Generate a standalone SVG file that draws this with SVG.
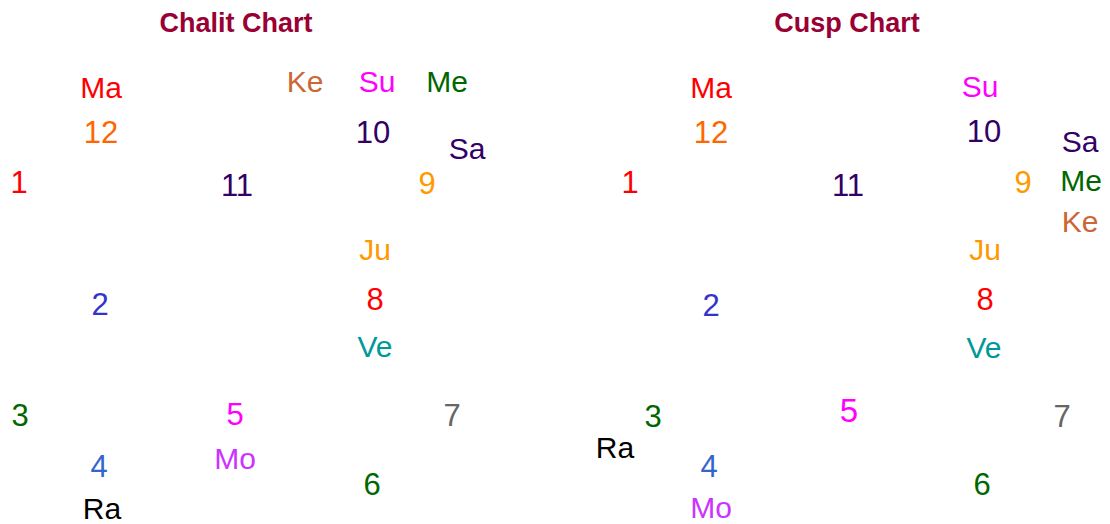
<svg xmlns="http://www.w3.org/2000/svg" width="1110" height="524" viewBox="0 0 1110 524">
<style>
text{font-family:"Liberation Sans",Arial,sans-serif;font-size:30px;text-anchor:middle}
.n{font-size:31px}
.t{font-size:27px;font-weight:bold;fill:#990033}
.red{fill:#ff0000}.org{fill:#ff6600}.pur{fill:#330066}.ke{fill:#cc6633}
.mag{fill:#ff00ff}.grn{fill:#006600}.yel{fill:#ff9900}.teal{fill:#009999}
.blu{fill:#3333cc}.gry{fill:#666666}.blu2{fill:#3366cc}.mo{fill:#cc33ff}.blk{fill:#000000}
</style>
<rect width="1110" height="524" fill="#ffffff"/>
<g id="chalit">
<text class="t" x="236" y="32">Chalit Chart</text>
<text class="red" x="101" y="98">Ma</text>
<text class="n org" x="101" y="143">12</text>
<text class="n red" x="19" y="193">1</text>
<text class="n pur" x="237" y="196">11</text>
<text class="ke" x="305" y="92">Ke</text>
<text class="mag" x="377" y="92">Su</text>
<text class="grn" x="447" y="92">Me</text>
<text class="n pur" x="373" y="143">10</text>
<text class="pur" x="467" y="159">Sa</text>
<text class="n yel" x="427" y="194">9</text>
<text class="yel" x="375" y="260">Ju</text>
<text class="n red" x="375" y="310">8</text>
<text class="teal" x="375" y="357">Ve</text>
<text class="n blu" x="100" y="315">2</text>
<text class="n grn" x="20" y="426">3</text>
<text class="n mag" x="235" y="425">5</text>
<text class="n gry" x="452" y="426">7</text>
<text class="n blu2" x="99" y="477">4</text>
<text class="mo" x="235" y="469">Mo</text>
<text class="n grn" x="372" y="495">6</text>
<text class="blk" x="102" y="519">Ra</text>
</g>
<g id="cusp">
<text class="t" x="847" y="32">Cusp Chart</text>
<text class="red" x="711" y="98">Ma</text>
<text class="n org" x="711" y="143">12</text>
<text class="n red" x="630" y="193">1</text>
<text class="n pur" x="848" y="196">11</text>
<text class="mag" x="980" y="97">Su</text>
<text class="n pur" x="984" y="142">10</text>
<text class="pur" x="1080" y="152">Sa</text>
<text class="n yel" x="1023" y="193">9</text>
<text class="grn" x="1081" y="191">Me</text>
<text class="ke" x="1080" y="232">Ke</text>
<text class="yel" x="985" y="260">Ju</text>
<text class="n red" x="985" y="310">8</text>
<text class="teal" x="984" y="358">Ve</text>
<text class="n blu" x="711" y="316">2</text>
<text class="n grn" x="653" y="427">3</text>
<text class="mag" x="849" y="422" style="font-size:33px">5</text>
<text class="n gry" x="1062" y="427">7</text>
<text class="blk" x="615" y="458">Ra</text>
<text class="n blu2" x="709" y="477">4</text>
<text class="mo" x="711" y="518">Mo</text>
<text class="n grn" x="982" y="495">6</text>
</g>
</svg>
